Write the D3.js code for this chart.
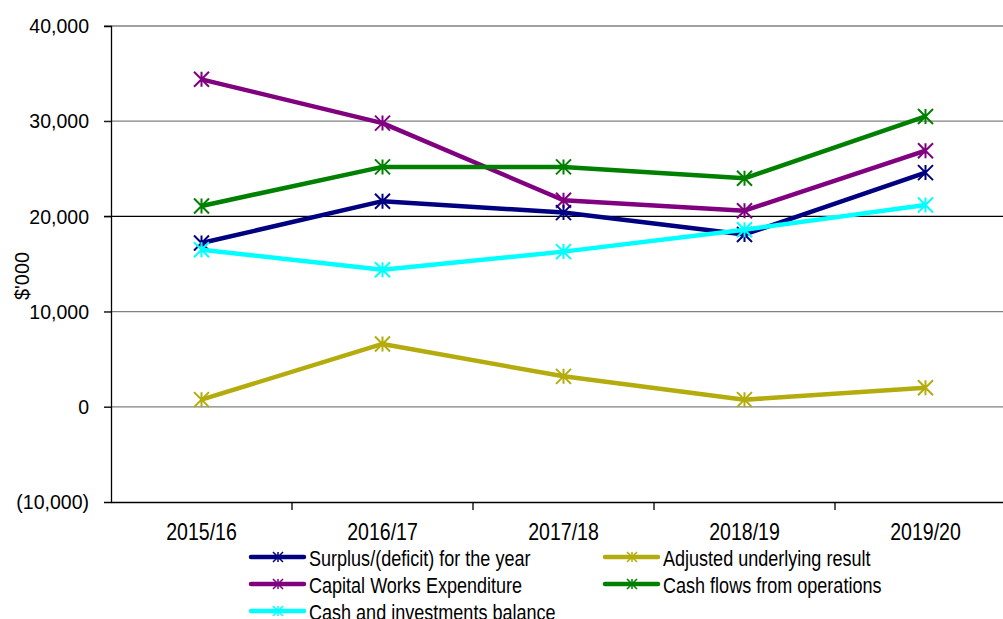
<!DOCTYPE html>
<html>
<head>
<meta charset="utf-8">
<script src="https://cdn.jsdelivr.net/npm/d3@7"></script>
<style>
  body { margin: 0; background: #fff; }
  svg { display: block; font-family: "Liberation Sans", Arial, sans-serif; }
</style>
</head>
<body>
<div class="chart"></div>
<script>
// data ($'000)
const years = ["2015/16", "2016/17", "2017/18", "2018/19", "2019/20"];
const surplus = [17200, 21600, 20400, 18100, 24600];
const adjusted = [750, 6600, 3200, 750, 2000];
const capital = [34400, 29800, 21700, 20600, 26900];
const cashFlows = [21100, 25200, 25200, 24000, 30500];
const cashBalance = [16500, 14400, 16300, 18600, 21200];
const yTicks = [40000, 30000, 20000, 10000, 0, -10000];

const series = [
  { name: "Surplus/(deficit) for the year", values: surplus, color: "#000080" },
  { name: "Adjusted underlying result", values: adjusted, color: "#b3ac0c" },
  { name: "Capital Works Expenditure", values: capital, color: "#800080" },
  { name: "Cash flows from operations", values: cashFlows, color: "#008000" },
  { name: "Cash and investments balance", values: cashBalance, color: "#00ffff" }
];
// drawing order (front-most last)
const drawOrder = [2, 3, 0, 4, 1];

const width = 1003, height = 619;
const svg = d3.select(".chart").append("svg")
    .attr("width", width)
    .attr("height", height);

const x = d3.scaleBand().domain(years).range([111, 1016]);
const y = d3.scaleLinear().domain([-10000, 40000]).range([502, 26]);

const fmt = v => v < 0 ? "(" + d3.format(",")(-v) + ")" : d3.format(",")(v);

// squeeze text horizontally round its anchor (reference font is narrower)
function narrow(sel, sx) {
  sel.each(function() {
    const ax = +(this.getAttribute("x") || 0);
    d3.select(this).attr("transform", `translate(${ax},0) scale(${sx},1) translate(${-ax},0)`);
  });
}

// gridlines
svg.append("g")
  .selectAll("line")
  .data(yTicks.filter(d => d > -10000))
  .enter().append("line")
    .attr("x1", 104).attr("x2", width)
    .attr("y1", d => y(d)).attr("y2", d => y(d))
    .attr("stroke", d => d === 20000 ? "#000" : "#808080")
    .attr("stroke-width", 1.3);

// y axis
const yAxis = svg.append("g")
    .attr("transform", "translate(111,0)")
    .call(d3.axisLeft(y).tickValues(yTicks).tickFormat(fmt).tickSize(7).tickPadding(15));
yAxis.attr("font-family", "Liberation Sans, Arial, sans-serif").attr("font-size", 21);
yAxis.select(".domain").attr("stroke", "#000").attr("stroke-width", 1.3);
yAxis.selectAll("text").attr("fill", "#000").call(narrow, 0.93);

// x axis
const xAxis = svg.append("g")
    .attr("transform", "translate(0,502)")
    .call(d3.axisBottom(x).tickSize(0).tickPadding(22));
xAxis.attr("font-family", "Liberation Sans, Arial, sans-serif").attr("font-size", 23);
xAxis.select(".domain").attr("stroke", "#000").attr("stroke-width", 1.3);
xAxis.selectAll("text").attr("fill", "#000").call(narrow, 0.85);
// category boundary ticks
svg.append("g")
  .selectAll("line")
  .data(years.slice(1))
  .enter().append("line")
    .attr("x1", d => x(d)).attr("x2", d => x(d))
    .attr("y1", 502).attr("y2", 510)
    .attr("stroke", "#000").attr("stroke-width", 1.3);

// y title
svg.append("text")
    .attr("transform", "translate(29,276) rotate(-90) scale(0.95,1)")
    .attr("text-anchor", "middle")
    .attr("font-size", 21)
    .text("$'000");

const cx = i => x(years[i]) + x.bandwidth() / 2;

function star(g, px, py, r, color, sw) {
  const p = `M${px - r},${py - r}L${px + r},${py + r}M${px - r},${py + r}L${px + r},${py - r}M${px},${py - r}L${px},${py + r}`;
  g.append("path").attr("d", p).attr("stroke", color).attr("stroke-width", sw).attr("fill", "none");
}

const line = d3.line().x((d, i) => cx(i)).y(d => y(d));

drawOrder.forEach(k => {
  const s = series[k];
  const g = svg.append("g");
  g.append("path")
    .attr("d", line(s.values))
    .attr("fill", "none")
    .attr("stroke", s.color)
    .attr("stroke-width", 4.5)
    .attr("stroke-linejoin", "round");
  s.values.forEach((v, i) => star(g, cx(i), y(v), 7.5, s.color, 2));
});

// legend
const legendPos = [[251, 557], [605, 557], [251, 584], [605, 584], [251, 611]];
series.forEach((s, k) => {
  const [lx, ly] = legendPos[k];
  const g = svg.append("g");
  g.append("line")
    .attr("x1", lx).attr("x2", lx + 53)
    .attr("y1", ly).attr("y2", ly)
    .attr("stroke", s.color).attr("stroke-width", 4.5).attr("stroke-linecap", "round");
  star(g, lx + 27, ly, 5, s.color, 1.5);
  g.append("text")
    .attr("x", lx + 58).attr("y", ly + 9)
    .attr("font-size", 22)
    .text(s.name)
    .call(narrow, 0.82);
});
</script>
</body>
</html>
